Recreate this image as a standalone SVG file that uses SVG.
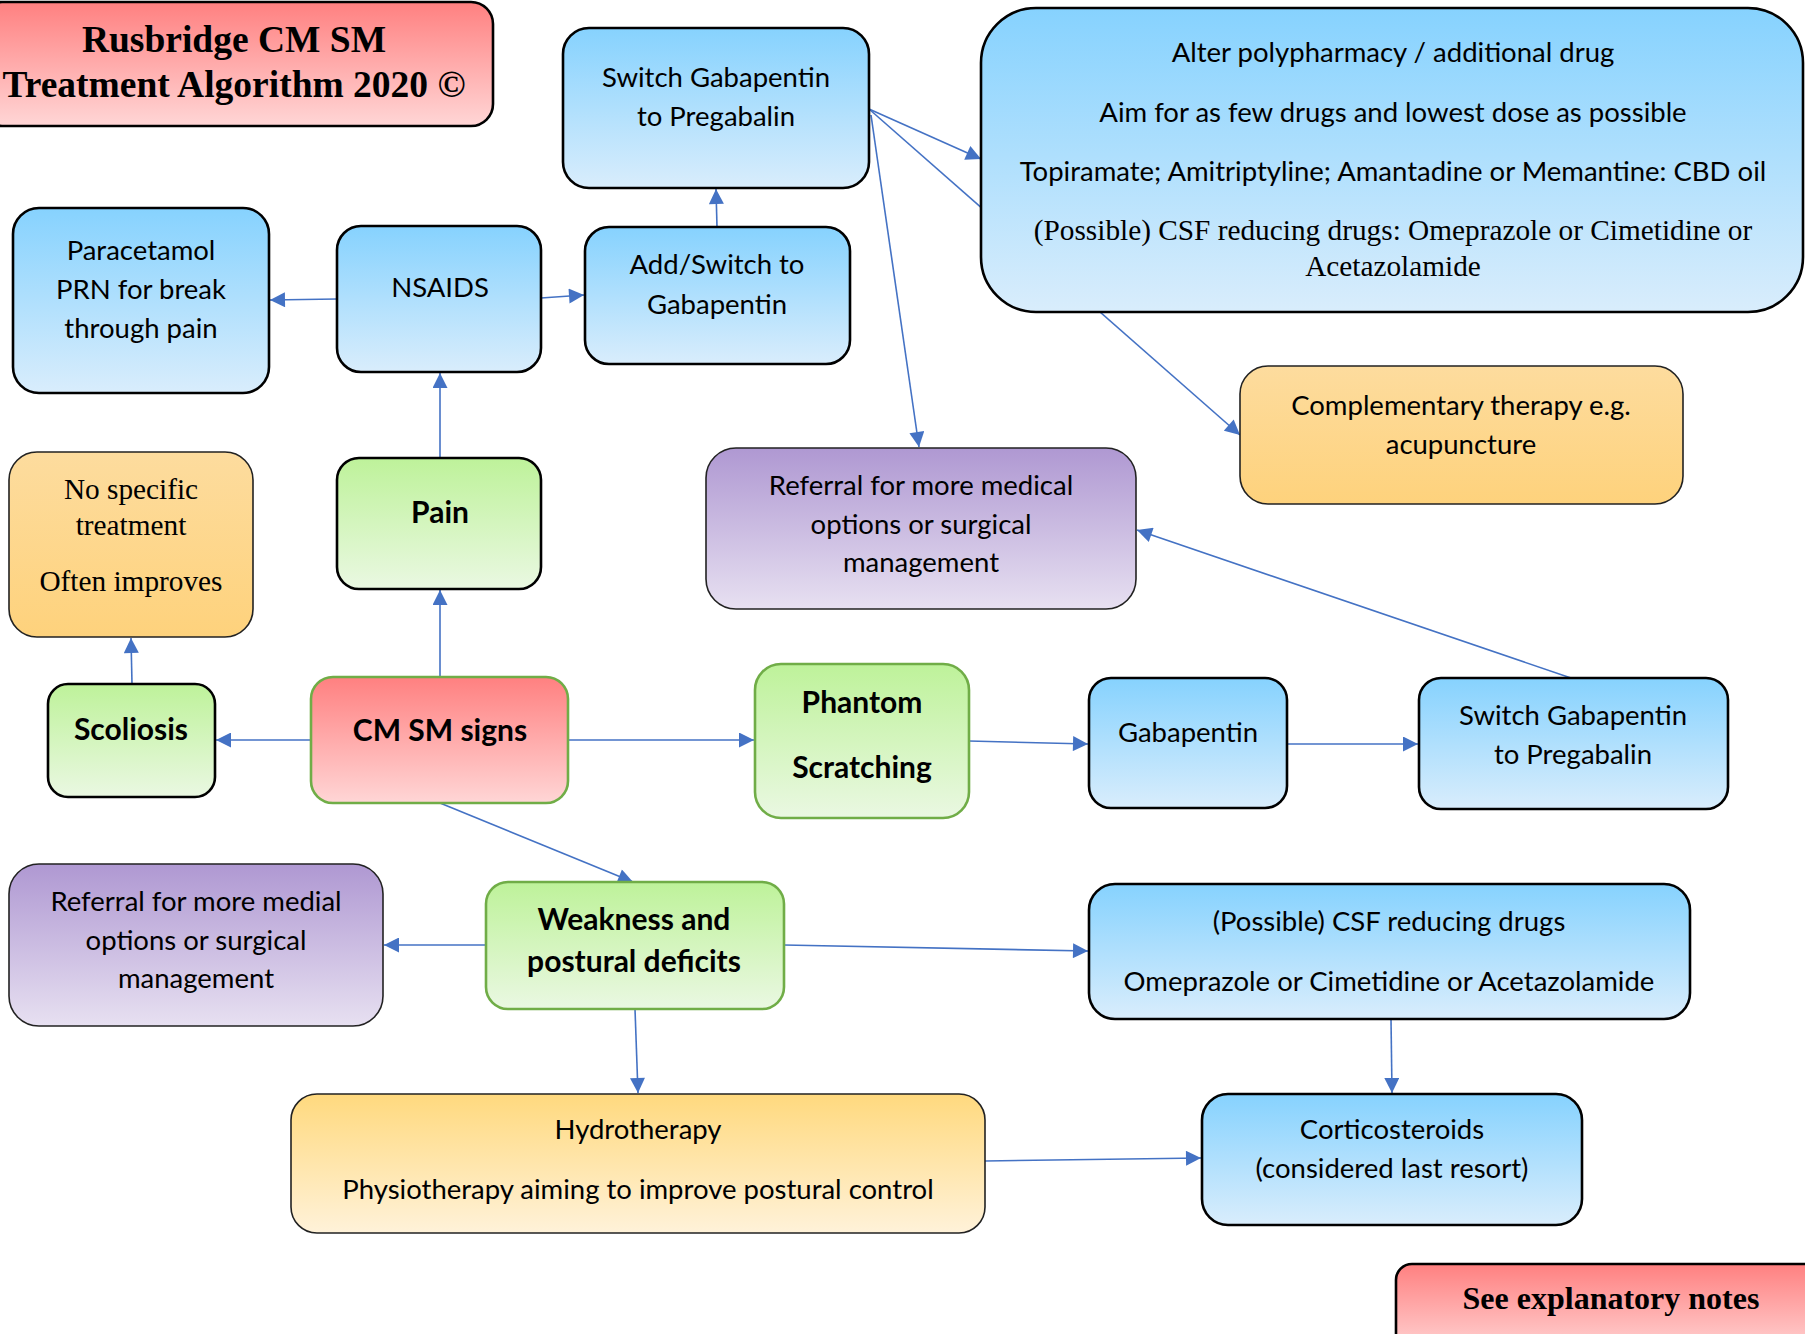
<svg xmlns="http://www.w3.org/2000/svg" width="1805" height="1334" viewBox="0 0 1805 1334">
<defs>
<linearGradient id="gBlue" x1="0" y1="0" x2="0" y2="1"><stop offset="0" stop-color="#86D2FE"/><stop offset="1" stop-color="#D9EDFC"/></linearGradient>
<linearGradient id="gGreen" x1="0" y1="0" x2="0" y2="1"><stop offset="0" stop-color="#BEF29A"/><stop offset="1" stop-color="#EAF8E2"/></linearGradient>
<linearGradient id="gRed" x1="0" y1="0" x2="0" y2="1"><stop offset="0" stop-color="#FF8080"/><stop offset="1" stop-color="#FFD6D6"/></linearGradient>
<linearGradient id="gOrange" x1="0" y1="0" x2="0" y2="1"><stop offset="0" stop-color="#FDDC9E"/><stop offset="1" stop-color="#FED27C"/></linearGradient>
<linearGradient id="gOrange2" x1="0" y1="0" x2="0" y2="1"><stop offset="0" stop-color="#FFD97E"/><stop offset="1" stop-color="#FFF2D9"/></linearGradient>
<linearGradient id="gPurple" x1="0" y1="0" x2="0" y2="1"><stop offset="0" stop-color="#AF98D2"/><stop offset="1" stop-color="#E7E0F1"/></linearGradient>
<marker id="arr" viewBox="0 0 10 10" refX="10" refY="5" markerWidth="16" markerHeight="15" markerUnits="userSpaceOnUse" orient="auto"><path d="M0,0 L10,5 L0,10 z" fill="#4472C4"/></marker>
<style>
.blue{fill:url(#gBlue);stroke:#000;stroke-width:2.6}
.green{fill:url(#gGreen);stroke:#000;stroke-width:2.6}
.greenG{fill:url(#gGreen);stroke:#70AD47;stroke-width:2.6}
.red{fill:url(#gRed);stroke:#000;stroke-width:2.6}
.redG{fill:url(#gRed);stroke:#70AD47;stroke-width:2.6}
.orange{fill:url(#gOrange);stroke:#222;stroke-width:1.6}
.orange2{fill:url(#gOrange2);stroke:#222;stroke-width:1.6}
.purple{fill:url(#gPurple);stroke:#222;stroke-width:1.6}
.c{font-family:Lato,"Open Sans",sans-serif;font-size:27.5px;fill:#000;text-anchor:middle}
.cb{font-family:Lato,"Open Sans",sans-serif;font-size:30px;font-weight:bold;fill:#000;text-anchor:middle}
.t{font-family:"Liberation Serif","Times New Roman",serif;font-size:29.3px;fill:#000;text-anchor:middle}
.tb{font-family:"Liberation Serif","Times New Roman",serif;font-weight:bold;fill:#000;text-anchor:middle}
.con line{stroke:#4472C4;stroke-width:1.6;fill:none}
</style>
</defs>
<rect width="1805" height="1334" fill="#fff"/>
<g id="connectors" class="con">
<line x1="440" y1="677" x2="440" y2="590" marker-end="url(#arr)"/>
<line x1="440" y1="458" x2="440" y2="373" marker-end="url(#arr)"/>
<line x1="337" y1="299" x2="270" y2="300" marker-end="url(#arr)"/>
<line x1="541" y1="298" x2="584" y2="295" marker-end="url(#arr)"/>
<line x1="717" y1="227" x2="716" y2="189" marker-end="url(#arr)"/>
<line x1="869" y1="109" x2="981" y2="159" marker-end="url(#arr)"/>
<line x1="869" y1="109" x2="1240" y2="435" marker-end="url(#arr)"/>
<line x1="871" y1="115" x2="919" y2="447" marker-end="url(#arr)"/>
<line x1="1571" y1="678" x2="1137" y2="530" marker-end="url(#arr)"/>
<line x1="311" y1="740" x2="216" y2="740" marker-end="url(#arr)"/>
<line x1="132" y1="684" x2="131" y2="638" marker-end="url(#arr)"/>
<line x1="568" y1="740" x2="754" y2="740" marker-end="url(#arr)"/>
<line x1="969" y1="741" x2="1088" y2="744" marker-end="url(#arr)"/>
<line x1="1287" y1="744" x2="1418" y2="744" marker-end="url(#arr)"/>
<line x1="440" y1="803" x2="633" y2="882" marker-end="url(#arr)"/>
<line x1="486" y1="945" x2="384" y2="945" marker-end="url(#arr)"/>
<line x1="784" y1="945" x2="1088" y2="951" marker-end="url(#arr)"/>
<line x1="635" y1="1009" x2="638" y2="1093" marker-end="url(#arr)"/>
<line x1="1391" y1="1019" x2="1392" y2="1093" marker-end="url(#arr)"/>
<line x1="985" y1="1161" x2="1201" y2="1158" marker-end="url(#arr)"/>
</g>
<g id="title">
<rect class="red" x="-20" y="2" width="513" height="124" rx="22"/>
<text class="tb" x="234" y="52" font-size="37.5">Rusbridge CM SM</text>
<text class="tb" x="234" y="97" font-size="37.5">Treatment Algorithm 2020 ©</text>
</g>
<g id="switch-top">
<rect class="blue" x="563" y="28" width="306" height="160" rx="26"/>
<text class="c" x="716" y="87">Switch Gabapentin</text>
<text class="c" x="716" y="126">to Pregabalin</text>
</g>
<g id="alter">
<rect class="blue" x="981" y="8" width="822" height="304" rx="55"/>
<text class="c" x="1393" y="62">Alter polypharmacy / additional drug</text>
<text class="c" x="1393" y="122">Aim for as few drugs and lowest dose as possible</text>
<text class="c" x="1393" y="181">Topiramate; Amitriptyline; Amantadine or Memantine: CBD oil</text>
<text class="t" x="1393" y="240">(Possible) CSF reducing drugs: Omeprazole or Cimetidine or</text>
<text class="t" x="1393" y="276">Acetazolamide</text>
</g>
<g id="paracetamol">
<rect class="blue" x="13" y="208" width="256" height="185" rx="26"/>
<text class="c" x="141" y="260">Paracetamol</text>
<text class="c" x="141" y="299">PRN for break</text>
<text class="c" x="141" y="338">through pain</text>
</g>
<g id="nsaids">
<rect class="blue" x="337" y="226" width="204" height="146" rx="24"/>
<text class="c" x="440" y="297">NSAIDS</text>
</g>
<g id="add-switch">
<rect class="blue" x="585" y="227" width="265" height="137" rx="24"/>
<text class="c" x="717" y="274">Add/Switch to</text>
<text class="c" x="717" y="314">Gabapentin</text>
</g>
<g id="no-specific">
<rect class="orange" x="9" y="452" width="244" height="185" rx="28"/>
<text class="t" x="131" y="499">No specific</text>
<text class="t" x="131" y="535">treatment</text>
<text class="t" x="131" y="591">Often improves</text>
</g>
<g id="pain">
<rect class="green" x="337" y="458" width="204" height="131" rx="22"/>
<text class="cb" x="440" y="523">Pain</text>
</g>
<g id="referral-top">
<rect class="purple" x="706" y="448" width="430" height="161" rx="30"/>
<text class="c" x="921" y="495">Referral for more medical</text>
<text class="c" x="921" y="534">options or surgical</text>
<text class="c" x="921" y="572">management</text>
</g>
<g id="complementary">
<rect class="orange" x="1240" y="366" width="443" height="138" rx="28"/>
<text class="c" x="1461" y="415">Complementary therapy e.g.</text>
<text class="c" x="1461" y="454">acupuncture</text>
</g>
<g id="scoliosis">
<rect class="green" x="48" y="684" width="167" height="113" rx="20"/>
<text class="cb" x="131" y="740">Scoliosis</text>
</g>
<g id="cmsm">
<rect class="redG" x="311" y="677" width="257" height="126" rx="22"/>
<text class="cb" x="440" y="741">CM SM signs</text>
</g>
<g id="phantom">
<rect class="greenG" x="755" y="664" width="214" height="154" rx="26"/>
<text class="cb" x="862" y="713">Phantom</text>
<text class="cb" x="862" y="778">Scratching</text>
</g>
<g id="gabapentin">
<rect class="blue" x="1089" y="678" width="198" height="130" rx="22"/>
<text class="c" x="1188" y="742">Gabapentin</text>
</g>
<g id="switch-low">
<rect class="blue" x="1419" y="678" width="309" height="131" rx="22"/>
<text class="c" x="1573" y="725">Switch Gabapentin</text>
<text class="c" x="1573" y="764">to Pregabalin</text>
</g>
<g id="referral-low">
<rect class="purple" x="9" y="864" width="374" height="162" rx="30"/>
<text class="c" x="196" y="911">Referral for more medial</text>
<text class="c" x="196" y="950">options or surgical</text>
<text class="c" x="196" y="988">management</text>
</g>
<g id="weakness">
<rect class="greenG" x="486" y="882" width="298" height="127" rx="22"/>
<text class="cb" x="634" y="930">Weakness and</text>
<text class="cb" x="634" y="972">postural deficits</text>
</g>
<g id="csf">
<rect class="blue" x="1089" y="884" width="601" height="135" rx="26"/>
<text class="c" x="1389" y="931">(Possible) CSF reducing drugs</text>
<text class="c" x="1389" y="991">Omeprazole or Cimetidine or Acetazolamide</text>
</g>
<g id="hydro">
<rect class="orange2" x="291" y="1094" width="694" height="139" rx="26"/>
<text class="c" x="638" y="1139">Hydrotherapy</text>
<text class="c" x="638" y="1199">Physiotherapy aiming to improve postural control</text>
</g>
<g id="cortico">
<rect class="blue" x="1202" y="1094" width="380" height="131" rx="26"/>
<text class="c" x="1392" y="1139">Corticosteroids</text>
<text class="c" x="1392" y="1178">(considered last resort)</text>
</g>
<g id="notes">
<rect class="red" x="1396" y="1264" width="430" height="90" rx="16"/>
<text class="tb" x="1611" y="1309" font-size="32">See explanatory notes</text>
</g>
</svg>
